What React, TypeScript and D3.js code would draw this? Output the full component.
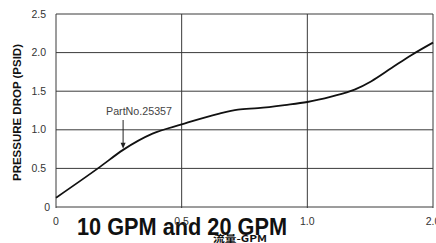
import React from 'react';
import * as d3 from 'd3';

// flow (GPM) vs pressure drop (PSID)
const flowValues = [0, 0.175, 0.267, 0.384, 0.5, 0.65, 0.724, 0.804, 0.91, 1.0, 1.19, 1.376, 1.51, 1.67, 1.83, 2.0];
const dropValues = [0.12, 0.52, 0.74, 0.95, 1.07, 1.21, 1.26, 1.28, 1.32, 1.36, 1.43, 1.52, 1.63, 1.8, 1.97, 2.13];

const xTicks = [0, 0.5, 1.0, 2.0];
const xTickLabels = ['0', '0.5', '1.0', '2.0'];
const yTicks = [0, 0.5, 1.0, 1.5, 2.0, 2.5];
const yTickLabels = ['0', '0.5', '1.0', '1.5', '2.0', '2.5'];

const partLabel = 'PartNo.25357';
const partArrowFlow = 0.267;
const titleText = '10 GPM and 20 GPM';
const xAxisTitle = '流量-GPM';
const yAxisTitle = 'PRESSURE DROP (PSID)';

const W = 436;
const H = 243;
const left = 56;
const right = 433;
const top = 14;
const bottom = 207;

export default function App() {
  // ticks are evenly spaced even though 1.0 -> 2.0 is a bigger step
  const x = d3.scaleLinear()
    .domain(xTicks)
    .range(xTicks.map((_, i) => left + (i * (right - left)) / (xTicks.length - 1)));
  const y = d3.scaleLinear().domain([0, 2.5]).range([bottom, top]);

  const points: [number, number][] = flowValues.map((f, i) => [f, dropValues[i]]);
  const line = d3.line<[number, number]>()
    .x(d => x(d[0]))
    .y(d => y(d[1]))
    .curve(d3.curveMonotoneX);

  const arrowX = x(partArrowFlow);
  const arrowTipY = y(0.74) - 1;

  const tickFont = '"Liberation Sans", Arial, sans-serif';
  const boldFont = '"Liberation Sans", Arial, sans-serif';
  const gridColor = '#3a3a3a';

  return (
    <svg width={W} height={H} style={{ position: 'absolute', left: 0, top: 0, background: '#fff' }}>
      {/* horizontal grid */}
      {yTicks.map(t => (
        <line key={'h' + t} x1={left} x2={right} y1={y(t)} y2={y(t)} stroke={gridColor} strokeWidth={1} />
      ))}
      {/* vertical grid */}
      {xTicks.map(t => (
        <line key={'v' + t} x1={x(t)} x2={x(t)} y1={top} y2={bottom + 1} stroke={gridColor} strokeWidth={1} />
      ))}

      {/* curve */}
      <path d={line(points) || ''} fill="none" stroke="#111" strokeWidth={1.8} />

      {/* annotation */}
      <text x={106} y={115} fontFamily={tickFont} fontSize={10.5} fill="#444" textLength={66} lengthAdjust="spacingAndGlyphs">
        {partLabel}
      </text>
      <line x1={arrowX} x2={arrowX} y1={120} y2={arrowTipY - 4} stroke="#222" strokeWidth={1} />
      <path d={`M${arrowX - 2.5},${arrowTipY - 6} L${arrowX + 2.5},${arrowTipY - 6} L${arrowX},${arrowTipY} Z`} fill="#222" />

      {/* y tick labels */}
      {yTicks.map((t, i) => (
        <text key={'yl' + t} x={t === 0 ? 50 : 46} y={y(t) + 3.5} textAnchor="end" fontFamily={tickFont} fontSize={10.5} fill="#333">
          {yTickLabels[i]}
        </text>
      ))}

      {/* y axis title */}
      <text
        transform={`translate(21,${(top + bottom) / 2 + 2}) rotate(-90)`}
        textAnchor="middle"
        fontFamily={boldFont}
        fontWeight="bold"
        fontSize={11}
        fill="#111"
        textLength={137}
        lengthAdjust="spacingAndGlyphs"
      >
        {yAxisTitle}
      </text>

      {/* big title */}
      <text
        x={77}
        y={235}
        fontFamily={boldFont}
        fontWeight="bold"
        fontSize={23}
        fill="#111"
        textLength={210}
        lengthAdjust="spacingAndGlyphs"
      >
        {titleText}
      </text>

      {/* x tick labels */}
      {xTicks.map((t, i) => (
        <text key={'xl' + t} x={x(t)} y={225} textAnchor="middle" fontFamily={tickFont} fontSize={10.5} fill="#333">
          {xTickLabels[i]}
        </text>
      ))}

      {/* x axis title */}
      <text
        x={213}
        y={242}
        fontFamily='"Noto Sans CJK SC", "Liberation Sans", sans-serif'
        fontWeight="bold"
        fontSize={9.5}
        fill="#111"
        textLength={54}
        lengthAdjust="spacingAndGlyphs"
      >
        {xAxisTitle}
      </text>
    </svg>
  );
}
